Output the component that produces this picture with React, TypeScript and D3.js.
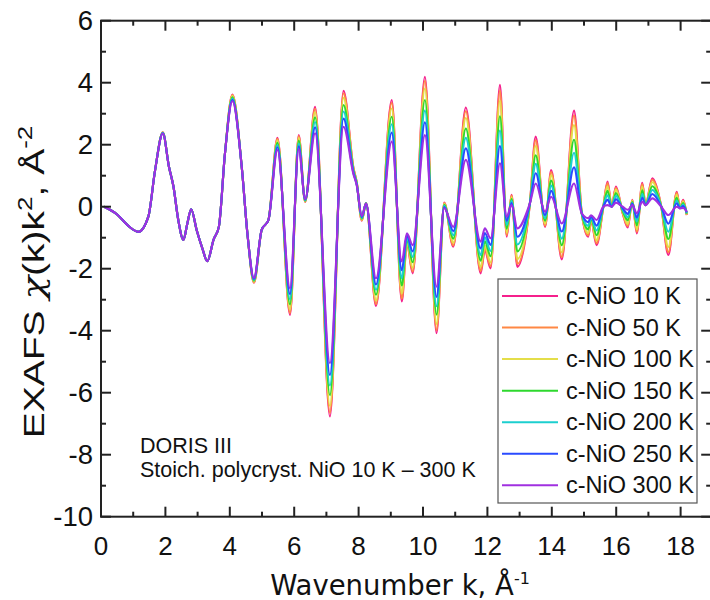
import React from "react";
import * as d3 from "d3";

const kValues = [0.10,0.50,0.85,1.16,1.47,1.68,1.92,2.11,2.25,2.40,2.56,2.68,2.80,2.97,3.15,3.30,3.50,3.66,3.85,4.08,4.37,4.55,4.75,4.99,5.20,5.48,5.87,6.14,6.34,6.65,7.11,7.53,7.84,7.94,8.10,8.23,8.54,9.03,9.34,9.50,9.68,10.06,10.42,10.66,10.94,11.33,11.79,11.92,12.10,12.39,12.60,12.75,12.93,13.32,13.50,13.79,13.98,14.31,14.69,14.93,15.13,15.22,15.39,15.60,15.73,15.86,15.99,16.20,16.36,16.50,16.64,16.81,16.91,17.12,17.40,17.62,17.88,17.98,18.08,18.19];

const t10K = [0.00,-0.25,-0.62,-0.81,-0.32,1.18,2.40,1.29,0.65,-0.43,-1.07,-0.55,-0.08,-0.75,-1.35,-1.76,-1.05,-0.65,1.72,
  3.62,1.29,-0.90,-2.45,-0.75,-0.43,2.22,-3.49,2.31,0.15,3.22,-6.77,3.74,1.25,0.80,-0.45,0.12,-3.20,3.44,-3.06,-1.20,-2.15,4.19,-4.08,0.13,-1.29,3.20,-2.15,-1.40,-1.99,3.93,-0.97,0.38,-1.94,0.11,2.26,-0.65,1.18,-1.70,3.10,-0.21,-0.97,-0.45,-1.24,0.00,0.81,0.00,0.65,-0.21,-0.67,0.22,-0.86,0.77,0.05,0.92,0.00,-1.56,0.48,-0.05,0.22,-0.27];
const t50K = [0.00,-0.25,-0.62,-0.81,-0.32,1.18,2.40,1.29,0.65,-0.43,-1.07,-0.55,-0.08,-0.75,-1.35,-1.76,-1.05,-0.65,1.72,
  3.60,1.29,-0.90,-2.44,-0.75,-0.43,2.19,-3.43,2.28,0.16,3.16,-6.65,3.66,1.24,0.79,-0.44,0.12,-3.14,3.35,-2.97,-1.18,-2.09,4.06,-3.98,0.12,-1.25,3.08,-2.08,-1.35,-1.92,3.75,-0.92,0.36,-1.85,0.11,2.15,-0.62,1.12,-1.62,2.94,-0.21,-0.93,-0.44,-1.18,0.00,0.76,0.00,0.61,-0.20,-0.63,0.21,-0.81,0.73,0.05,0.87,0.00,-1.47,0.45,-0.05,0.20,-0.26];
const t100K = [0.00,-0.25,-0.62,-0.81,-0.32,1.18,2.39,1.29,0.65,-0.43,-1.07,-0.55,-0.08,-0.75,-1.35,-1.76,-1.05,-0.65,1.72,
  3.58,1.29,-0.90,-2.42,-0.75,-0.43,2.14,-3.32,2.22,0.17,3.05,-6.43,3.51,1.21,0.78,-0.42,0.12,-3.02,3.17,-2.80,-1.13,-1.97,3.81,-3.78,0.09,-1.16,2.86,-1.95,-1.26,-1.80,3.42,-0.84,0.31,-1.69,0.11,1.96,-0.55,1.01,-1.47,2.63,-0.21,-0.85,-0.42,-1.08,0.00,0.66,0.00,0.55,-0.17,-0.56,0.19,-0.73,0.65,0.05,0.79,0.00,-1.30,0.38,-0.05,0.17,-0.25];
const t150K = [0.00,-0.25,-0.62,-0.81,-0.32,1.18,2.38,1.29,0.65,-0.43,-1.07,-0.55,-0.08,-0.75,-1.35,-1.76,-1.05,-0.65,1.72,
  3.53,1.29,-0.90,-2.39,-0.75,-0.43,2.06,-3.15,2.13,0.19,2.88,-6.08,3.28,1.17,0.76,-0.39,0.11,-2.84,2.90,-2.54,-1.06,-1.79,3.44,-3.48,0.06,-1.03,2.52,-1.74,-1.12,-1.60,2.92,-0.71,0.25,-1.44,0.11,1.66,-0.45,0.84,-1.24,2.16,-0.21,-0.73,-0.38,-0.92,0.00,0.51,0.00,0.44,-0.13,-0.44,0.15,-0.60,0.53,0.05,0.66,0.00,-1.04,0.29,-0.05,0.12,-0.23];
const t200K = [0.00,-0.25,-0.62,-0.81,-0.32,1.18,2.38,1.29,0.65,-0.43,-1.07,-0.55,-0.08,-0.75,-1.35,-1.76,-1.05,-0.65,1.72,
  3.49,1.29,-0.90,-2.36,-0.75,-0.43,1.99,-2.99,2.04,0.21,2.73,-5.77,3.07,1.13,0.74,-0.36,0.11,-2.68,2.66,-2.31,-1.00,-1.62,3.10,-3.21,0.03,-0.92,2.22,-1.56,-0.99,-1.43,2.46,-0.59,0.19,-1.22,0.11,1.38,-0.37,0.68,-1.03,1.74,-0.21,-0.62,-0.35,-0.77,0.00,0.37,0.00,0.35,-0.09,-0.34,0.12,-0.48,0.42,0.05,0.54,0.00,-0.81,0.20,-0.05,0.07,-0.21];
const t250K = [0.00,-0.25,-0.62,-0.81,-0.32,1.18,2.37,1.29,0.65,-0.43,-1.07,-0.55,-0.08,-0.75,-1.35,-1.76,-1.05,-0.65,1.72,
  3.45,1.29,-0.90,-2.33,-0.75,-0.43,1.92,-2.82,1.95,0.23,2.56,-5.43,2.84,1.09,0.72,-0.33,0.10,-2.51,2.39,-2.05,-0.93,-1.44,2.72,-2.91,-0.01,-0.79,1.88,-1.35,-0.85,-1.23,1.96,-0.46,0.12,-0.97,0.11,1.08,-0.27,0.51,-0.80,1.27,-0.21,-0.50,-0.32,-0.61,0.00,0.22,0.00,0.24,-0.05,-0.23,0.09,-0.35,0.29,0.05,0.41,0.00,-0.55,0.11,-0.05,0.02,-0.18];
const t300K = [0.00,-0.25,-0.62,-0.81,-0.32,1.18,2.36,1.29,0.65,-0.43,-1.07,-0.55,-0.08,-0.75,-1.35,-1.76,-1.05,-0.65,1.72,
  3.40,1.29,-0.90,-2.30,-0.75,-0.43,1.83,-2.63,1.85,0.25,2.37,-5.05,2.58,1.05,0.70,-0.30,0.10,-2.31,2.10,-1.77,-0.86,-1.24,2.31,-2.58,-0.05,-0.65,1.51,-1.13,-0.70,-1.02,1.40,-0.32,0.05,-0.70,0.11,0.75,-0.16,0.32,-0.54,0.75,-0.21,-0.37,-0.28,-0.43,0.00,0.05,0.00,0.13,0.00,-0.10,0.05,-0.21,0.16,0.05,0.27,0.00,-0.27,0.00,-0.05,-0.04,-0.16];

const seriesNames = ["c-NiO 10 K","c-NiO 50 K","c-NiO 100 K","c-NiO 150 K","c-NiO 200 K","c-NiO 250 K","c-NiO 300 K"];
const seriesValues = [t10K, t50K, t100K, t150K, t200K, t250K, t300K];
const seriesColors = ["#f5208c","#ff8844","#e4de4a","#2ed82e","#1ccfcf","#2a4bff","#a030e0"];

const xTicks = [0,2,4,6,8,10,12,14,16,18];
const xMinor = [1,3,5,7,9,11,13,15,17];
const yTicks = [-10,-8,-6,-4,-2,0,2,4,6];
const yMinor = [-9,-7,-5,-3,-1,1,3,5];

const W = 710, H = 600;
const LEFT = 101, RIGHT = 711.2, TOP = 20.7, BOTTOM = 516.7;

export default function App() {
  const x = d3.scaleLinear().domain([0, 18.95]).range([LEFT, RIGHT]);
  const y = d3.scaleLinear().domain([-10, 6]).range([BOTTOM, TOP]);
  const line = d3.line<number>()
    .x((_, i) => x(kValues[i]))
    .y((d) => y(d))
    .curve(d3.curveMonotoneX);

  const axisColor = "#222";
  const sans = "'Liberation Sans', Arial, sans-serif";
  const legendRows = seriesNames.map((n, i) => ({ n, c: seriesColors[i], yy: 296 + i * 31.55 }));

  return (
    <svg width={W} height={H} style={{ position: "absolute", left: 0, top: 0, background: "#fff" }}>
      <rect x={0} y={0} width={W} height={H} fill="#fff" />
      {/* series */}
      <g fill="none" strokeWidth={2.1} strokeLinejoin="round">
        {seriesValues.map((vals, i) => (
          <path key={i} d={line(vals) || ""} stroke={seriesColors[i]} />
        ))}
      </g>
      {/* frame */}
      <rect x={LEFT} y={TOP} width={RIGHT - LEFT} height={BOTTOM - TOP} fill="none" stroke={axisColor} strokeWidth={2} />
      {/* ticks */}
      <g stroke={axisColor} strokeWidth={2}>
        {xTicks.map((t) => (
          <g key={"xt" + t}>
            <line x1={x(t)} x2={x(t)} y1={BOTTOM} y2={BOTTOM - 10} />
            <line x1={x(t)} x2={x(t)} y1={TOP} y2={TOP + 10} />
          </g>
        ))}
        {xMinor.map((t) => (
          <g key={"xm" + t}>
            <line x1={x(t)} x2={x(t)} y1={BOTTOM} y2={BOTTOM - 5} />
            <line x1={x(t)} x2={x(t)} y1={TOP} y2={TOP + 5} />
          </g>
        ))}
        {yTicks.map((t) => (
          <g key={"yt" + t}>
            <line x1={LEFT} x2={LEFT + 10} y1={y(t)} y2={y(t)} />
            <line x1={RIGHT} x2={RIGHT - 10} y1={y(t)} y2={y(t)} />
          </g>
        ))}
        {yMinor.map((t) => (
          <g key={"ym" + t}>
            <line x1={LEFT} x2={LEFT + 5} y1={y(t)} y2={y(t)} />
            <line x1={RIGHT} x2={RIGHT - 5} y1={y(t)} y2={y(t)} />
          </g>
        ))}
      </g>
      {/* tick labels */}
      <g fontFamily={sans} fill="#111">
        {xTicks.map((t) => (
          <text key={"xl" + t} x={x(t)} y={555} textAnchor="middle" fontSize={26}>{t}</text>
        ))}
        {yTicks.map((t) => (
          <text key={"yl" + t} x={93} y={y(t) + 9} textAnchor="end" fontSize={27.5}>{t}</text>
        ))}
      </g>
      {/* axis titles */}
      <text x={400} y={595} textAnchor="middle" fontFamily="'DejaVu Sans', Verdana, sans-serif" fontSize={27.5} fill="#111">
        Wavenumber k, Å<tspan dy={-11} fontSize={16}>-1</tspan>
      </text>
      <text transform="translate(44,282) rotate(-90) scale(1.3,1)" textAnchor="middle" fontFamily={sans} fontSize={30} fill="#111">
        EXAFS <tspan fontFamily="'DejaVu Serif', 'Liberation Serif', serif" fontStyle="italic">χ</tspan>(k)k<tspan dy={-12} fontSize={20}>2</tspan><tspan dy={12}>, Å</tspan><tspan dy={-12} fontSize={20}>-2</tspan>
      </text>
      {/* annotation */}
      <g fontFamily={sans} fontSize={21.5} fill="#111">
        <text x={140} y={453}>DORIS III</text>
        <text x={140} y={477}>Stoich. polycryst. NiO 10 K – 300 K</text>
      </g>
      {/* legend */}
      <rect x={498} y={279} width={199} height={224} fill="#fff" stroke="#555" strokeWidth={1.2} />
      {legendRows.map((r) => (
        <g key={r.n}>
          <line x1={502} x2={558} y1={r.yy} y2={r.yy} stroke={r.c} strokeWidth={2} />
          <text x={566} y={r.yy} dominantBaseline="central" fontFamily={sans} fontSize={23.5} fill="#111">{r.n}</text>
        </g>
      ))}
    </svg>
  );
}
